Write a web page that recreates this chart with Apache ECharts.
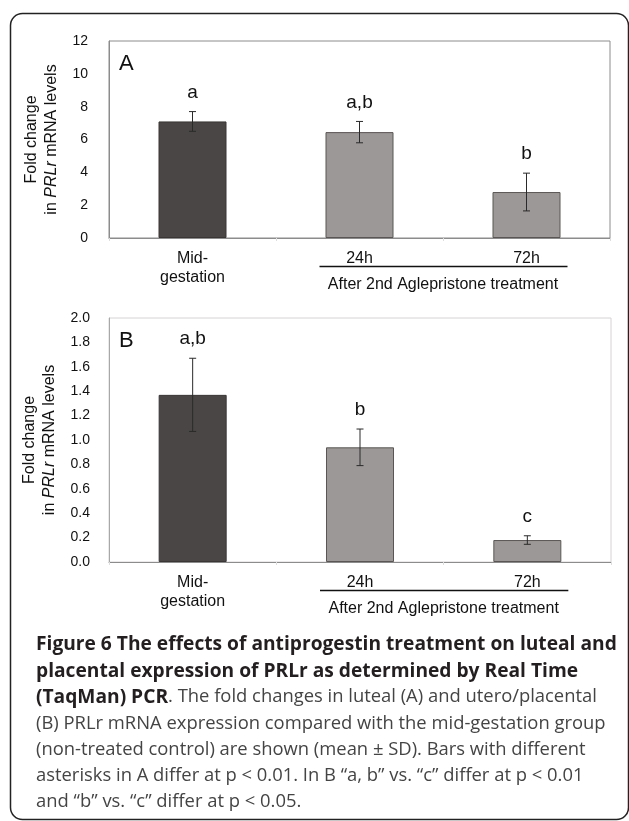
<!DOCTYPE html>
<html>
<head>
<meta charset="utf-8">
<script src="https://cdn.jsdelivr.net/npm/echarts@6/dist/echarts.min.js"></script>
<style>
  html, body { margin: 0; padding: 0; background: #fff; }
  #chart { width: 629px; height: 821px; }
</style>
</head>
<body>
<div id="chart"></div>
<script>
// groups on the x axis
const categories = ['Mid-\ngestation', '24h', '72h'];
const groupLabel = 'After 2nd Aglepristone treatment';

// panel A - luteal PRLr, mean and SD
const meanA = [7.1, 6.45, 2.8];
const sdA = [0.6, 0.65, 1.15];
const lettersA = ['a', 'a,b', 'b'];
const ticksA = [0, 2, 4, 6, 8, 10, 12];

// panel B - utero/placental PRLr, mean and SD
const meanB = [1.37, 0.94, 0.18];
const sdB = [0.30, 0.15, 0.035];
const lettersB = ['a,b', 'b', 'c'];
const ticksB = ['0.0', '0.2', '0.4', '0.6', '0.8', '1.0', '1.2', '1.4', '1.6', '1.8', '2.0'];

const captionLines = [
  '{b|Figure 6 The effects of antiprogestin treatment on luteal and}',
  '{b|placental expression of PRLr as determined by Real Time}',
  '{b|(TaqMan) PCR}{r|. The fold changes in luteal (A) and utero/placental}',
  '{r|(B) PRLr mRNA expression compared with the mid-gestation group}',
  '{r|(non-treated control) are shown (mean \u00b1 SD). Bars with different}',
  '{r|asterisks in A differ at p < 0.01. In B \u201ca, b\u201d vs. \u201cc\u201d differ at p < 0.01}',
  '{r|and \u201cb\u201d vs. \u201cc\u201d differ at p < 0.05.}'
];

const FONT = 'Liberation Sans, Arial, sans-serif';
const DARK = '#4a4645';
const GREY = '#9c9897';

function barData(values) {
  return values.map((v, i) => ({
    value: v,
    itemStyle: {
      color: i === 0 ? DARK : GREY,
      borderColor: i === 0 ? '#3a3635' : '#5a5655',
      borderWidth: 1
    }
  }));
}

function errorBars(sd, letters) {
  return function (params, api) {
    const i = api.value(0);
    const m = api.value(1);
    const s = sd[params.dataIndex];
    const top = api.coord([i, m + s]);
    const bot = api.coord([i, m - s]);
    const lineStyle = { stroke: '#2a2a2a', lineWidth: 1 };
    return {
      type: 'group',
      children: [
        { type: 'line', shape: { x1: top[0], y1: top[1], x2: bot[0], y2: bot[1] }, style: lineStyle },
        { type: 'line', shape: { x1: top[0] - 3.5, y1: top[1], x2: top[0] + 3.5, y2: top[1] }, style: lineStyle },
        { type: 'line', shape: { x1: bot[0] - 3.5, y1: bot[1], x2: bot[0] + 3.5, y2: bot[1] }, style: lineStyle },
        {
          type: 'text',
          style: {
            text: letters[params.dataIndex],
            x: top[0], y: top[1] - 19,
            align: 'center', verticalAlign: 'middle',
            font: '19px ' + FONT, fill: '#111'
          }
        }
      ]
    };
  };
}

function xAxisOf(gridIndex) {
  return {
    type: 'category',
    gridIndex: gridIndex,
    data: categories,
    axisLine: { lineStyle: { color: '#8c8c8c', width: 1 } },
    axisTick: { show: true, length: 3, lineStyle: { color: '#dddddd' } },
    axisLabel: {
      color: '#111', fontFamily: FONT, fontSize: 16,
      margin: 11, lineHeight: 19
    }
  };
}

function yAxisOf(gridIndex, ticks, margin, lineColor) {
  const step = Number(ticks[1]) - Number(ticks[0]);
  return {
    type: 'value',
    gridIndex: gridIndex,
    min: Number(ticks[0]),
    max: Number(ticks[ticks.length - 1]),
    interval: step,
    splitLine: { show: false },
    axisTick: { show: false },
    axisLine: { show: true, lineStyle: { color: lineColor } },
    axisLabel: {
      color: '#111', fontFamily: FONT, fontSize: 14, margin: margin,
      formatter: (v) => {
        const k = Math.round((v - Number(ticks[0])) / step);
        return String(ticks[k]);
      }
    },
    name: 'Fold change\n{t|in }{i|PRLr}{t| mRNA levels}',
    nameLocation: 'middle',
    nameRotate: 90,
    nameGap: 37,
    nameTextStyle: {
      color: '#111', fontFamily: FONT, fontSize: 16, lineHeight: 20,
      rich: {
        t: { fontFamily: FONT, fontSize: 16, color: '#111', lineHeight: 20 },
        i: { fontFamily: FONT, fontSize: 16, color: '#111', fontStyle: 'italic', lineHeight: 20 }
      }
    }
  };
}

const chart = echarts.init(document.getElementById('chart'), null, { renderer: 'canvas' });

const option = {
  backgroundColor: '#fff',
  animation: false,
  grid: [
    { left: 109, top: 41, width: 501, height: 197, show: true, borderColor: '#8c8c8c', borderWidth: 1 },
    { left: 109, top: 318, width: 502, height: 244, show: true, borderColor: '#d6d3d3', borderWidth: 1 }
  ],
  xAxis: [xAxisOf(0), xAxisOf(1)],
  yAxis: [yAxisOf(0, ticksA, 21, '#8c8c8c'), yAxisOf(1, ticksB, 19, '#a8a8a8')],
  series: [
    { type: 'bar', xAxisIndex: 0, yAxisIndex: 0, barWidth: 68, data: barData(meanA) },
    { type: 'bar', xAxisIndex: 1, yAxisIndex: 1, barWidth: 68, data: barData(meanB) },
    {
      type: 'custom', xAxisIndex: 0, yAxisIndex: 0, z: 10,
      renderItem: errorBars(sdA, lettersA),
      data: meanA.map((v, i) => [i, v])
    },
    {
      type: 'custom', xAxisIndex: 1, yAxisIndex: 1, z: 10,
      renderItem: errorBars(sdB, lettersB),
      data: meanB.map((v, i) => [i, v])
    }
  ]
};
chart.setOption(option);

// group underline, panel letters, caption and frame
const graphics = [
  {
    type: 'rect', silent: true,
    shape: { x: 10.5, y: 13.5, width: 618, height: 806, r: 12 },
    style: { fill: 'none', stroke: '#222', lineWidth: 1.5 }
  }
];
[0, 1].forEach((g) => {
  const x1 = chart.convertToPixel({ xAxisIndex: g }, categories[1]);
  const x2 = chart.convertToPixel({ xAxisIndex: g }, categories[2]);
  const y0 = chart.convertToPixel({ yAxisIndex: g }, 0);
  const yTop = chart.convertToPixel({ yAxisIndex: g }, g === 0 ? Number(ticksA[ticksA.length - 1]) : Number(ticksB[ticksB.length - 1]));
  graphics.push({
    type: 'line', silent: true,
    shape: { x1: x1 - 40, y1: y0 + 28.5, x2: x2 + 41, y2: y0 + 28.5 },
    style: { stroke: '#111', lineWidth: 1.5 }
  });
  graphics.push({
    type: 'text', silent: true,
    style: {
      text: groupLabel, x: (x1 + x2) / 2, y: y0 + 47,
      align: 'center', verticalAlign: 'middle',
      font: '16px ' + FONT, fill: '#111'
    }
  });
  graphics.push({
    type: 'text', silent: true,
    style: {
      text: g === 0 ? 'A' : 'B', x: 119, y: yTop + 23,
      align: 'left', verticalAlign: 'middle',
      font: '22px ' + FONT, fill: '#111'
    }
  });
});
captionLines.forEach((line, k) => {
  graphics.push({
    type: 'text', silent: true,
    style: {
      text: line, x: 36, y: 645 + k * 26.1,
      align: 'left', verticalAlign: 'middle',
      rich: {
        b: { fontFamily: 'Open Sans', fontWeight: 'bold', fontSize: 19.2, fill: '#231f20' },
        r: { fontFamily: 'Open Sans', fontSize: 18.4, fill: '#444' }
      }
    }
  });
});
chart.setOption({ graphic: graphics });
</script>
</body>
</html>
